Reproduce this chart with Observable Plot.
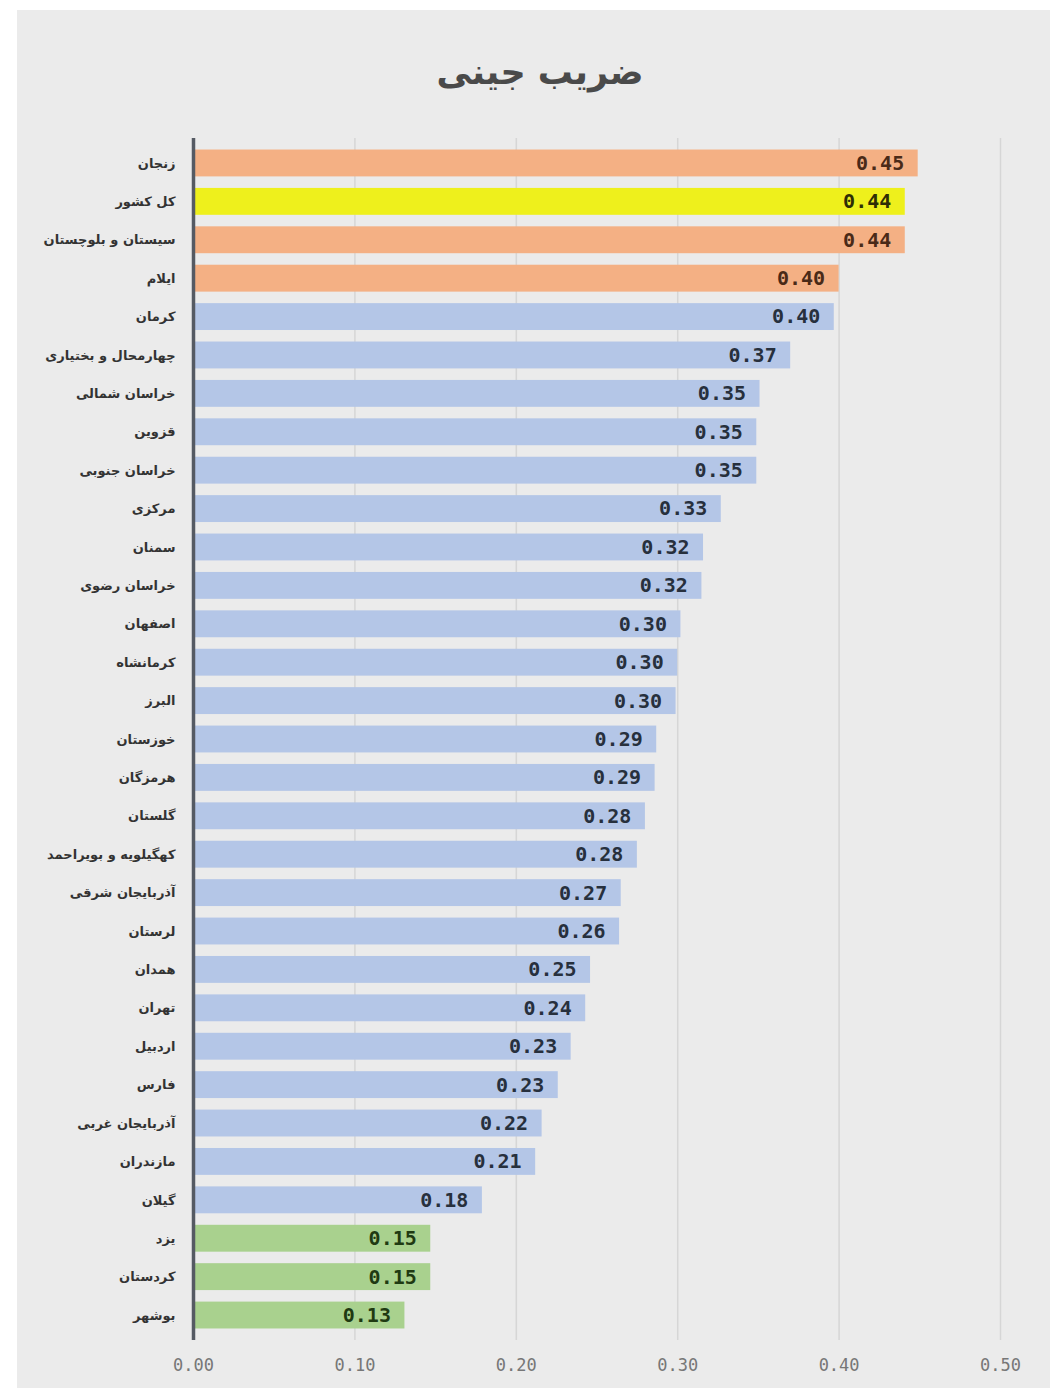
<!DOCTYPE html>
<html>
<head>
<meta charset="utf-8">
<script src="https://cdn.jsdelivr.net/npm/d3@7"></script>
<script src="https://cdn.jsdelivr.net/npm/@observablehq/plot@0.6"></script>
<style>
  html, body { margin: 0; padding: 0; background: #ffffff; }
  #frame {
    position: absolute; left: 17px; top: 10px; width: 1033px; height: 1378px;
    background: #ebebeb;
  }
  #title {
    position: absolute; left: 0; top: 42px; width: 1046px; text-align: center;
    font-family: "DejaVu Sans", sans-serif; font-weight: bold; font-size: 35px; color: #4a4a4a;
    direction: rtl;
  }
  #chart { position: absolute; left: 0; top: 120px; }
</style>
</head>
<body>
<div id="frame">
  <div id="title">ضریب جینی</div>
  <div id="chart"></div>
</div>
<script>
const provinces = [
  "زنجان", "کل کشور", "سیستان و بلوچستان", "ایلام", "کرمان", "چهارمحال و بختیاری",
  "خراسان شمالی", "قزوین", "خراسان جنوبی", "مرکزی", "سمنان", "خراسان رضوی",
  "اصفهان", "کرمانشاه", "البرز", "خوزستان", "هرمزگان", "گلستان",
  "کهگیلویه و بویراحمد", "آذربایجان شرقی", "لرستان", "همدان", "تهران", "اردبیل",
  "فارس", "آذربایجان غربی", "مازندران", "گیلان", "یزد", "کردستان", "بوشهر"
];
const gini = [
  0.449, 0.441, 0.441, 0.400, 0.397, 0.370,
  0.351, 0.349, 0.349, 0.327, 0.316, 0.315,
  0.302, 0.300, 0.299, 0.287, 0.286, 0.280,
  0.275, 0.265, 0.264, 0.246, 0.243, 0.234,
  0.226, 0.216, 0.212, 0.179, 0.147, 0.147, 0.131
];
const groups = [
  "high", "country", "high", "high", "mid", "mid",
  "mid", "mid", "mid", "mid", "mid", "mid",
  "mid", "mid", "mid", "mid", "mid", "mid",
  "mid", "mid", "mid", "mid", "mid", "mid",
  "mid", "mid", "mid", "mid", "low", "low", "low"
];
const xTicks = [0, 0.1, 0.2, 0.3, 0.4, 0.5];
const groupNames = ["high", "country", "mid", "low"];
const barColors = ["#f4b084", "#eef01c", "#b4c6e7", "#a9d18e"];
const textColors = ["#4a2a18", "#2e2e05", "#27303d", "#1f3a12"];

const data = provinces.map((p, i) => ({province: p, value: gini[i], group: groups[i]}));
const textColor = g => textColors[groupNames.indexOf(g)];

const chart = Plot.plot({
  width: 1033,
  height: 1250,
  marginLeft: 176,
  marginRight: 50,
  marginTop: 8,
  marginBottom: 40,
  style: {background: "transparent", overflow: "visible"},
  x: {domain: [0, 0.5], ticks: xTicks, label: null, axis: null},
  y: {domain: provinces, padding: 0.3, round: false, label: null, axis: null},
  color: {domain: groupNames, range: barColors},
  marks: [
    Plot.ruleX(xTicks.slice(1), {stroke: "#d6d6d6", strokeWidth: 1.5}),
    Plot.barX(data, {x: "value", y: "province", fill: "group"}),
    Plot.ruleX([0], {stroke: "#555a63", strokeWidth: 3.5}),
    Plot.text(data, {
      x: "value", y: "province", text: d => d.value.toFixed(2),
      textAnchor: "end", dx: -14, fill: d => textColor(d.group),
      fontFamily: "DejaVu Sans Mono", fontWeight: "bold", fontSize: 20
    }),
    Plot.axisY({
      tickSize: 0, tickPadding: 18, fontFamily: "DejaVu Sans", fontWeight: "bold",
      fontSize: 13, fill: "#333", label: null
    }),
    Plot.axisX({
      ticks: xTicks, tickFormat: d3.format(".2f"), tickSize: 0, tickPadding: 18,
      fontFamily: "DejaVu Sans Mono", fontSize: 17, fill: "#777", label: null
    })
  ]
});
document.getElementById("chart").appendChild(chart);
</script>
</body>
</html>
